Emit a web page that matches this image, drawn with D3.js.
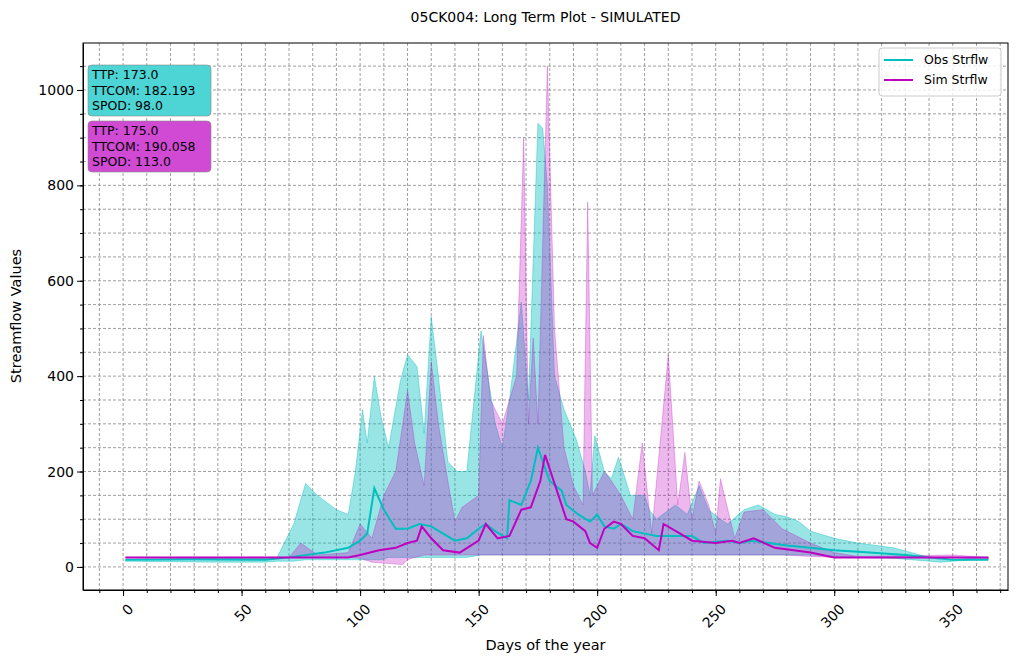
<!DOCTYPE html>
<html><head><meta charset="utf-8">
<script src="https://cdn.jsdelivr.net/npm/d3@7"></script>
<style>body{margin:0;background:#fff;font-family:"DejaVu Sans",sans-serif} .tk text{font-size:14px;fill:#000;font-family:"DejaVu Sans"}</style>
</head><body><svg id="c" width="1017" height="662"></svg>
<script>
// Mean lines [day, value]
const obsLine=[[1,15],[30,16],[60,15],[70,20],[85,30],[95,40],[100,55],[103,70],[106,165],[110,120],[115,80],[120,80],[125,90],[130,85],[135,70],[140,55],[145,60],[150,80],[153,90],[157,75],[162,60],[163,140],[168,130],[172,180],[175,250],[180,180],[185,160],[187,130],[192,110],[197,95],[200,110],[203,85],[207,80],[210,90],[215,75],[225,65],[240,65],[245,50],[255,55],[260,50],[265,55],[280,45],[290,40],[300,35],[315,30],[330,25],[340,20],[350,15],[365,15]];
const simLine=[[1,20],[95,20],[100,25],[108,35],[115,40],[120,50],[124,55],[126,85],[130,60],[135,35],[142,30],[150,55],[153,90],[158,60],[163,65],[168,120],[172,125],[176,180],[178,235],[183,160],[187,100],[190,95],[195,75],[197,50],[200,40],[203,80],[207,95],[210,90],[215,65],[220,60],[226,35],[228,90],[235,70],[240,55],[250,50],[257,55],[260,50],[266,60],[275,40],[290,30],[300,20],[365,20]];
// Bands [day, min, max]
const obsBand=[[1,12,15],[40,10,18],[60,10,18],[65,12,20],[72,12,90],[77,15,175],[82,15,150],[90,15,120],[95,15,110],[98,15,200],[101,15,330],[103,15,260],[106,15,400],[109,15,310],[112,20,250],[117,20,390],[120,20,445],[124,20,420],[127,20,280],[130,20,525],[133,20,400],[137,20,220],[141,20,200],[145,20,200],[151,25,495],[157,25,300],[160,25,250],[163,25,350],[168,25,555],[171,25,350],[175,25,930],[177,25,920],[179,25,800],[182,25,400],[186,25,330],[191,25,270],[195,25,200],[197,25,150],[199,25,275],[203,25,200],[206,25,185],[209,25,230],[214,25,150],[220,25,150],[222,25,120],[225,25,100],[233,25,130],[238,25,110],[243,25,170],[247,25,120],[252,25,100],[255,25,90],[262,25,120],[268,25,130],[275,25,110],[280,25,105],[285,25,95],[290,25,75],[300,22,60],[310,20,50],[325,18,40],[340,12,20],[345,10,15],[350,12,15],[360,15,20],[365,15,20]];
const simBand=[[1,20,20],[70,20,20],[75,20,50],[82,20,25],[95,20,30],[100,18,90],[105,10,60],[110,8,150],[115,6,200],[118,5,300],[120,15,370],[123,20,260],[127,25,170],[130,25,430],[133,25,300],[137,25,180],[140,25,95],[143,25,125],[150,25,150],[152,25,485],[155,25,350],[160,25,300],[166,25,400],[169,25,900],[171,25,300],[173,25,480],[175,25,300],[179,25,1050],[182,25,500],[186,25,250],[190,25,170],[194,25,130],[196,25,765],[198,25,150],[203,25,200],[206,25,180],[210,25,150],[215,25,100],[219,25,260],[223,25,70],[230,25,445],[234,25,130],[237,25,240],[240,25,100],[243,25,180],[247,25,130],[250,25,70],[252,25,185],[258,25,60],[262,25,115],[270,25,120],[278,25,80],[290,22,50],[300,20,30],[310,20,22],[350,20,25],[365,18,20]];
const xTicks=[0,50,100,150,200,250,300,350];
const yTicks=[0,200,400,600,800,1000];
const title="05CK004: Long Term Plot - SIMULATED";
const obsStats=["TTP: 173.0","TTCOM: 182.193","SPOD: 98.0"];
const simStats=["TTP: 175.0","TTCOM: 190.058","SPOD: 113.0"];

const svg=d3.select("#c");
const L=83,R=1008,T=43,B=590;
const x=d3.scaleLinear().domain([-16.9,373.3]).range([L,R]);
const y=d3.scaleLinear().domain([-48.4,1098.5]).range([B,T]);
const cC="#00bfbf",cM="#bf00bf";
const xg=d3.range(-10,371,10), yg=d3.range(0,1100,50);
svg.append("g").selectAll("line").data(xg).join("line").attr("x1",d=>x(d)).attr("x2",d=>x(d)).attr("y1",T).attr("y2",B).attr("stroke","#888").attr("stroke-dasharray","3,2").attr("stroke-width",0.8);
svg.append("g").selectAll("line").data(yg).join("line").attr("y1",d=>y(d)).attr("y2",d=>y(d)).attr("x1",L).attr("x2",R).attr("stroke","#888").attr("stroke-dasharray","3,2").attr("stroke-width",0.8);
const area=d3.area().x(d=>x(d[0])).y0(d=>y(d[1])).y1(d=>y(d[2]));
svg.append("path").attr("d",area(obsBand)).attr("fill",cC).attr("fill-opacity",0.4).attr("stroke",cC).attr("stroke-opacity",0.4);
svg.append("path").attr("d",area(simBand)).attr("fill",cM).attr("fill-opacity",0.28).attr("stroke",cM).attr("stroke-opacity",0.28);
const line=d3.line().x(d=>x(d[0])).y(d=>y(d[1]));
svg.append("path").attr("d",line(obsLine)).attr("fill","none").attr("stroke",cC).attr("stroke-width",2);
svg.append("path").attr("d",line(simLine)).attr("fill","none").attr("stroke",cM).attr("stroke-width",2);
const xa=svg.append("g").attr("class","tk").attr("transform",`translate(0,${B})`).call(d3.axisBottom(x).tickValues(xTicks).tickSize(6).tickSizeOuter(0));
xa.selectAll("text").attr("text-anchor","end").attr("dy","0.35em").attr("transform","translate(1,10) rotate(-45)");
svg.append("g").attr("transform",`translate(0,${B})`).call(d3.axisBottom(x).tickValues(xg).tickSize(3).tickFormat("").tickSizeOuter(0)).select(".domain").remove();
svg.append("g").attr("class","tk").attr("transform",`translate(${L},0)`).call(d3.axisLeft(y).tickValues(yTicks).tickFormat(d3.format("d")).tickSize(6).tickSizeOuter(0));
svg.append("g").attr("transform",`translate(${L},0)`).call(d3.axisLeft(y).tickValues(yg).tickSize(3).tickFormat("").tickSizeOuter(0)).select(".domain").remove();
svg.append("rect").attr("x",L).attr("y",T).attr("width",R-L).attr("height",B-T).attr("fill","none").attr("stroke","#000");
svg.append("text").attr("x",(L+R)/2).attr("y",22).attr("text-anchor","middle").attr("font-size",14).text(title);
svg.append("text").attr("x",(L+R)/2).attr("y",650).attr("text-anchor","middle").attr("font-size",14.5).text("Days of the year");
svg.append("text").attr("transform","translate(21,316) rotate(-90)").attr("text-anchor","middle").attr("font-size",14.5).text("Streamflow Values");
function box(y0,fill,lines){
  svg.append("rect").attr("x",88).attr("y",y0).attr("width",123).attr("height",51).attr("rx",4).attr("fill",fill).attr("stroke","#888").attr("stroke-opacity",0.6);
  lines.forEach((t,i)=>svg.append("text").attr("x",92).attr("y",y0+14+i*15.5).attr("font-size",12.5).text(t));
}
box(65,"#4dd4d4",obsStats);
box(121,"#d04ad4",simStats);
const lg=svg.append("g");
lg.append("rect").attr("x",879).attr("y",48).attr("width",122).attr("height",48).attr("rx",3).attr("fill","#fff").attr("fill-opacity",0.8).attr("stroke","#ccc");
[["Obs Strflw",cC],["Sim Strflw",cM]].forEach((d,i)=>{
  lg.append("line").attr("x1",884).attr("x2",913).attr("y1",60+i*20).attr("y2",60+i*20).attr("stroke",d[1]).attr("stroke-width",2);
  lg.append("text").attr("x",924).attr("y",64+i*20).attr("font-size",12.5).text(d[0]);
});
</script></body></html>
